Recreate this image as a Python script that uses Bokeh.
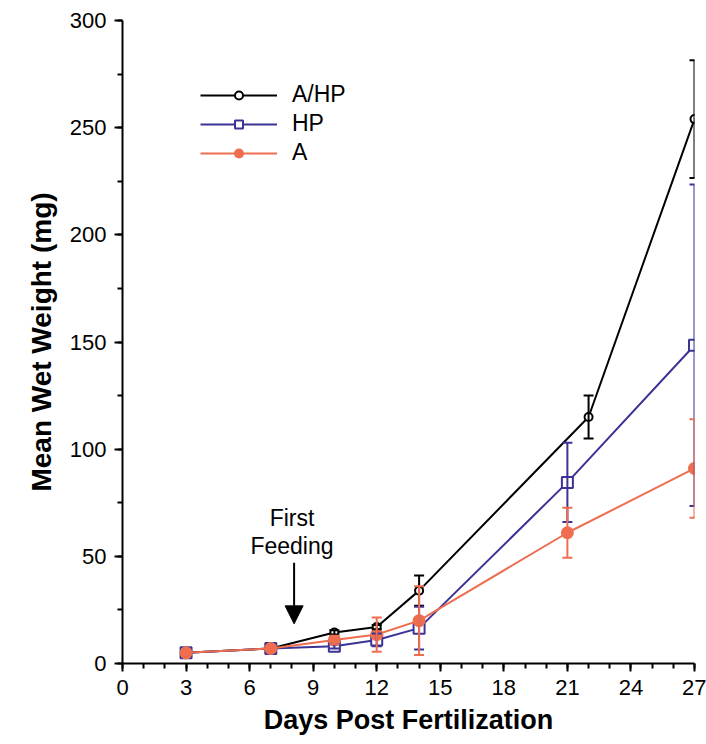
from bokeh.plotting import figure
from bokeh.models import (ColumnDataSource, Whisker, TeeHead, Legend, LegendItem,
                          SingleIntervalTicker, Arrow, NormalHead, Range1d)
from bokeh.core.properties import value
from bokeh.embed import file_html
from bokeh.resources import INLINE

# ---- data ----
days_ahp = [3, 7, 10, 12, 14, 22, 27]
weight_ahp = [5, 7, 14.5, 17, 34, 115, 254]
err_ahp = [0, 0, 1, 1, 7, 10, 27.5]

days_hp = [3, 7, 10, 12, 14, 21, 27]
weight_hp = [5, 7, 8, 11, 16.5, 84.5, 148.5]
err_hp = [0, 0, 1, 3, 10, 18.5, 75]

days_a = [3, 7, 10, 12, 14, 21, 27]
weight_a = [5, 7, 11, 13.5, 20, 61, 91]
err_a = [0, 0, 2, 8, 16, 11.7, 23]

series_labels = ["A/HP", "HP", "A"]
annot_lines = ["First", "Feeding"]
annot_x = 8.0
annot_y = [68, 55]
arrow_x = 8.1
arrow_y_start = 47
arrow_y_end = 18.5

FONT = "Liberation Sans"
BLACK = "#000000"
BLUE = "#3b3396"
ORANGE = "#ee6e4f"

p = figure(width=706, height=740, output_backend="svg", toolbar_location=None,
           x_range=Range1d(0, 27), y_range=Range1d(0, 300),
           min_border_left=122, min_border_top=20, min_border_right=12,
           min_border_bottom=77)
p.outline_line_color = None
p.grid.visible = False
p.background_fill_color = "white"
p.border_fill_color = "white"

# axes
p.xaxis.ticker = SingleIntervalTicker(interval=3, num_minor_ticks=3)
p.yaxis.ticker = SingleIntervalTicker(interval=50, num_minor_ticks=2)
for ax in (p.xaxis[0], p.yaxis[0]):
    ax.axis_line_width = 2
    ax.axis_line_color = "black"
    ax.major_tick_line_width = 2
    ax.minor_tick_line_width = 2
    ax.major_tick_in = 0
    ax.major_tick_out = 8
    ax.minor_tick_in = 0
    ax.minor_tick_out = 5
    ax.major_label_text_font = FONT
    ax.major_label_text_font_size = "22px"
    ax.major_label_text_color = "black"
    ax.axis_label_text_font = FONT
    ax.axis_label_text_font_style = "bold"
    ax.axis_label_text_color = "black"
p.xaxis.major_label_standoff = 8
p.yaxis.major_label_standoff = 8
p.xaxis.axis_label = "Days Post Fertilization"
p.yaxis.axis_label = "Mean Wet Weight (mg)"
p.xaxis.axis_label_text_font_size = "27px"
p.yaxis.axis_label_text_font_size = "28px"
p.xaxis.axis_label_standoff = 7
p.yaxis.axis_label_standoff = 10


def add_series(days, weight, err, color, marker, size, fill):
    src = ColumnDataSource(dict(x=days, y=weight))
    keep = [i for i, e in enumerate(err) if e > 0]
    esrc = ColumnDataSource(dict(x=[days[i] for i in keep],
                                 lo=[weight[i] - err[i] for i in keep],
                                 hi=[weight[i] + err[i] for i in keep]))
    w = Whisker(base="x", lower="lo", upper="hi", source=esrc,
                line_color=color, line_width=2, level="glyph",
                upper_head=TeeHead(size=10, line_color=color, line_width=2),
                lower_head=TeeHead(size=10, line_color=color, line_width=2))
    p.add_layout(w)
    lr = p.line("x", "y", source=src, line_color=color, line_width=2)
    sr = p.scatter("x", "y", source=src, marker=marker, size=size,
                   line_color=color, line_width=2, fill_color=fill)
    return [lr, sr]


r_ahp = add_series(days_ahp, weight_ahp, err_ahp, BLACK, "circle", 8, "white")
r_hp = add_series(days_hp, weight_hp, err_hp, BLUE, "square", 11, "white")
r_a = add_series(days_a, weight_a, err_a, ORANGE, "circle", 11, ORANGE)

legend = Legend(items=[LegendItem(label=series_labels[0], renderers=r_ahp),
                       LegendItem(label=series_labels[1], renderers=r_hp),
                       LegendItem(label=series_labels[2], renderers=r_a)],
                location=(78, 497), padding=0, margin=0, spacing=2,
                glyph_width=77, glyph_height=20, label_height=20,
                label_standoff=15, label_text_font=FONT,
                label_text_font_size="23px", label_text_color="black",
                border_line_alpha=0, background_fill_alpha=0)
p.add_layout(legend, "center")

# annotation
p.text(x=[annot_x, annot_x], y=annot_y, text=annot_lines,
       text_font=value(FONT), text_font_size="23px", text_align="center",
       text_baseline="middle", text_color="black")
p.add_layout(Arrow(x_start=arrow_x, y_start=arrow_y_start, x_end=arrow_x,
                   y_end=arrow_y_end, line_width=2, line_color="black",
                   end=NormalHead(size=18, fill_color="black", line_color="black")))

open("out.html", "w").write(file_html(p, INLINE))
